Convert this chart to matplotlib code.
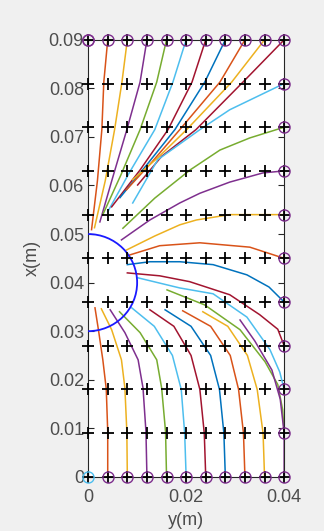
import matplotlib
matplotlib.use("Agg")
import matplotlib.pyplot as plt
from matplotlib.patches import Arc

# MATLAB default colour order
C_BLUE = "#0072BD"
C_ORANGE = "#D95319"
C_YELLOW = "#EDB120"
C_PURPLE = "#7E2F8E"
C_GREEN = "#77AC30"
C_CYAN = "#4DBEEE"
C_RED = "#A2142F"

# grid of evaluation points
GRID_X = [0.0, 0.004, 0.008, 0.012, 0.016, 0.02, 0.024, 0.028, 0.032, 0.036, 0.04]
GRID_Y = [0.0, 0.009, 0.018, 0.027, 0.036, 0.045, 0.054, 0.063, 0.072, 0.081, 0.09]

# start points marked with circles
START_X = GRID_X + [0.04] * 9 + GRID_X + [0.0]
START_Y = [0.09] * 11 + GRID_Y[1:10] + [0.0] * 11 + [0.09]
START_COLORS = [C_PURPLE] * 20 + [C_CYAN] + [C_PURPLE] * 11

# semicircle (inner boundary)
ARC_CENTER = (0.0, 0.04)
ARC_RADIUS = 0.01

# streamlines started from the top edge
TOP_LINES = [
    ([0.0, 0.0], [0.09, 0.05], C_BLUE),
    ([0.004, 0.0032, 0.0028, 0.0019, 0.0007], [0.09, 0.0813, 0.0715, 0.061, 0.0509], C_ORANGE),
    ([0.008, 0.0069, 0.0054, 0.0035, 0.0013], [0.09, 0.0813, 0.0715, 0.061, 0.0513], C_YELLOW),
    ([0.012, 0.0106, 0.0079, 0.005, 0.0024], [0.09, 0.0813, 0.0715, 0.0616, 0.0525], C_PURPLE),
    ([0.016, 0.014, 0.0106, 0.0067, 0.003], [0.09, 0.0813, 0.0715, 0.0622, 0.054], C_GREEN),
    ([0.02, 0.0173, 0.0136, 0.0085, 0.004], [0.09, 0.0813, 0.0715, 0.0628, 0.0546], C_CYAN),
    ([0.024, 0.0212, 0.0163, 0.0106, 0.0048], [0.09, 0.0813, 0.0715, 0.0632, 0.0556], C_RED),
    ([0.028, 0.0238, 0.0177, 0.012, 0.0065], [0.09, 0.0813, 0.0715, 0.0643, 0.0575], C_BLUE),
    ([0.032, 0.0269, 0.0187, 0.013, 0.0078], [0.09, 0.0813, 0.0715, 0.0648, 0.0591], C_ORANGE),
    ([0.036, 0.0293, 0.0201, 0.0142, 0.0091], [0.09, 0.0813, 0.0715, 0.0657, 0.0612], C_YELLOW),
    ([0.04, 0.0316, 0.022, 0.015, 0.0101], [0.09, 0.0813, 0.0715, 0.066, 0.0601], C_RED),
]

# streamlines started from the right edge
RIGHT_LINES = [
    ([0.04, 0.0289, 0.0228, 0.0142, 0.0091], [0.081, 0.0756, 0.0715, 0.0653, 0.0564], C_CYAN),
    ([0.04, 0.033, 0.0269, 0.0208, 0.0136, 0.0071], [0.072, 0.0698, 0.0673, 0.0632, 0.0574, 0.0512], C_GREEN),
    ([0.04, 0.0357, 0.0289, 0.0228, 0.0187, 0.0126, 0.0068],
     [0.063, 0.0626, 0.0607, 0.0584, 0.0564, 0.0529, 0.0488], C_PURPLE),
    ([0.04, 0.0289, 0.0221, 0.0187, 0.0136, 0.0078], [0.054, 0.054, 0.0529, 0.0519, 0.0496, 0.0467], C_YELLOW),
    ([0.04, 0.033, 0.0228, 0.0146, 0.0085], [0.045, 0.0473, 0.0482, 0.0476, 0.0457], C_ORANGE),
    ([0.04, 0.0369, 0.0324, 0.0255, 0.0187, 0.0126, 0.008],
     [0.036, 0.0391, 0.0416, 0.0437, 0.0443, 0.0443, 0.0437], C_BLUE),
    ([0.04, 0.0387, 0.035, 0.0289, 0.0207, 0.0146, 0.008],
     [0.027, 0.0304, 0.0334, 0.0375, 0.0402, 0.0414, 0.042], C_RED),
    ([0.04, 0.0391, 0.0371, 0.0324, 0.0255, 0.0187, 0.0101],
     [0.018, 0.0216, 0.0262, 0.0329, 0.0377, 0.0389, 0.041], C_CYAN),
    ([0.04, 0.0397, 0.0387, 0.0361, 0.031, 0.0238, 0.0161],
     [0.009, 0.0138, 0.019, 0.0237, 0.0303, 0.0354, 0.0385], C_GREEN),
]

# streamlines started from the bottom edge
BOTTOM_LINES = [
    ([0.0, 0.0], [0.0, 0.036], C_BLUE),
    ([0.004, 0.004, 0.0037, 0.003, 0.0021, 0.0014], [0.0, 0.0093, 0.0181, 0.0241, 0.0303, 0.0348], C_ORANGE),
    ([0.008, 0.0079, 0.0075, 0.0068, 0.0048, 0.0027], [0.0, 0.0093, 0.0183, 0.0241, 0.0303, 0.0346], C_YELLOW),
    ([0.012, 0.0118, 0.0112, 0.0102, 0.0075, 0.0045], [0.0, 0.0093, 0.0183, 0.0241, 0.0297, 0.0344], C_PURPLE),
    ([0.016, 0.0158, 0.015, 0.014, 0.0106, 0.0064], [0.0, 0.0093, 0.0183, 0.0241, 0.0297, 0.034], C_GREEN),
    ([0.02, 0.0197, 0.019, 0.0172, 0.0135, 0.0089], [0.0, 0.009, 0.018, 0.025, 0.031, 0.0348], C_CYAN),
    ([0.024, 0.0237, 0.0228, 0.021, 0.0175, 0.0126], [0.0, 0.009, 0.018, 0.025, 0.031, 0.0344], C_RED),
    ([0.028, 0.0277, 0.0268, 0.025, 0.021, 0.0157], [0.0, 0.009, 0.018, 0.025, 0.031, 0.0344], C_BLUE),
    ([0.032, 0.0317, 0.0307, 0.029, 0.025, 0.0193], [0.0, 0.009, 0.018, 0.025, 0.031, 0.0342], C_ORANGE),
    ([0.036, 0.0357, 0.0345, 0.0325, 0.0285, 0.0234], [0.0, 0.009, 0.018, 0.025, 0.031, 0.034], C_YELLOW),
    ([0.04, 0.04, 0.0392, 0.0375, 0.034, 0.031], [0.0, 0.009, 0.016, 0.022, 0.028, 0.0323], C_PURPLE),
]

X_TICKS = [0.0, 0.02, 0.04]
X_TICK_LABELS = ["0", "0.02", "0.04"]
Y_TICKS = [0.0, 0.01, 0.02, 0.03, 0.04, 0.05, 0.06, 0.07, 0.08, 0.09]
Y_TICK_LABELS = ["0", "0.01", "0.02", "0.03", "0.04", "0.05", "0.06", "0.07", "0.08", "0.09"]

plt.rcParams["font.family"] = ["Liberation Sans", "DejaVu Sans"]

fig = plt.figure(figsize=(3.24, 5.31), dpi=100, facecolor="#f0f0f0")
ax = fig.add_axes([0.272, 0.102, 0.605, 0.823])
ax.set_facecolor("white")

for xs, ys, color in TOP_LINES + RIGHT_LINES + BOTTOM_LINES:
    ax.plot(xs, ys, color=color, linewidth=1.1, zorder=2)

ax.add_patch(Arc(ARC_CENTER, 2 * ARC_RADIUS, 2 * ARC_RADIUS, theta1=-90, theta2=90,
                 color="#1a1aff", linewidth=1.3, zorder=3))

for gy in GRID_Y:
    ax.plot(GRID_X, [gy] * len(GRID_X), linestyle="none", marker="+", markersize=8.5,
            markeredgewidth=1.3, color="black", zorder=4, clip_on=False)

for sx, sy, sc in zip(START_X, START_Y, START_COLORS):
    ax.plot(sx, sy, linestyle="none", marker="o", markersize=8, markerfacecolor="none",
            markeredgewidth=1.0, markeredgecolor=sc, zorder=5, clip_on=False)

ax.set_xlim(0, 0.04)
ax.set_ylim(0, 0.09)
ax.set_xticks(X_TICKS, X_TICK_LABELS)
ax.set_yticks(Y_TICKS, Y_TICK_LABELS)
ax.tick_params(direction="in", length=4, width=0.8, colors="#262626", labelcolor="#4d4d4d",
               labelsize=13, top=True, right=True)
ax.tick_params(axis="y", pad=3)
ax.tick_params(axis="x", pad=9)
for spine in ax.spines.values():
    spine.set_color("#262626")
    spine.set_linewidth(0.8)
ax.set_xlabel("y(m)", fontsize=13, color="#4d4d4d", labelpad=4)
ax.set_ylabel("x(m)", fontsize=13, color="#4d4d4d", labelpad=6)

fig.savefig("out.png", dpi=100, facecolor=fig.get_facecolor())
